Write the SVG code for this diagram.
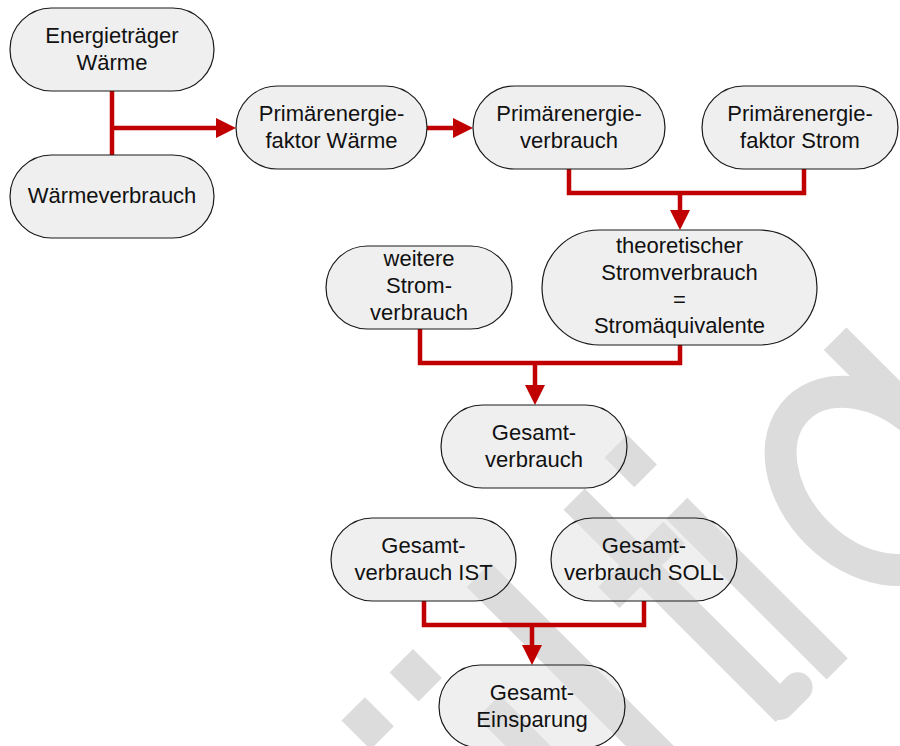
<svg xmlns="http://www.w3.org/2000/svg" width="900" height="746" viewBox="0 0 900 746">
  <defs>
    <style>
      .node rect { fill: #dfdfdf; fill-opacity: 0.5; stroke: #1a1a1a; stroke-width: 1.2; }
      .node text { font-family: "Liberation Sans", Arial, sans-serif; font-size: 22px; fill: #111; text-anchor: middle; }
      .conn { fill: none; stroke: #c00000; stroke-width: 4.5; stroke-linejoin: miter; stroke-linecap: butt; }
      .wm { fill: #dcdcdc; }
    </style>
    <marker id="arrow" viewBox="0 0 20 20" refX="0" refY="10" markerWidth="20" markerHeight="20" markerUnits="userSpaceOnUse" orient="auto">
      <path d="M0,0 L20,10 L0,20 Z" fill="#c00000"/>
    </marker>
  </defs>
  <rect x="0" y="0" width="900" height="746" fill="#ffffff"/>

  <g id="watermark" transform="rotate(-45)">
    <rect class="wm" x="-268" y="751" width="33" height="41"/>
    <rect class="wm" x="-200" y="751" width="33" height="41"/>
    <rect class="wm" x="-170" y="845" width="32" height="220"/>
    <rect class="wm" x="-85" y="745" width="34" height="320"/>
    <rect class="wm" x="38" y="759" width="30" height="300"/>
    <rect class="wm" x="8" y="838" width="92" height="30"/>
    <rect class="wm" x="38" y="1035" width="55" height="30" rx="15"/>
    <rect class="wm" x="104" y="751" width="32" height="42"/>
    <rect class="wm" x="104" y="838" width="30" height="227"/>
    <ellipse cx="275" cy="955" rx="74" ry="102" fill="none" stroke="#dcdcdc" stroke-width="32"/>
    <rect class="wm" x="335" y="830" width="32" height="235"/>
  </g>

  <g id="connectors">
    <path class="conn" d="M112,91 V155"/>
    <path class="conn" d="M112,128 H216" marker-end="url(#arrow)"/>
    <path class="conn" d="M427,128 H453" marker-end="url(#arrow)"/>
    <path class="conn" d="M569,169 V193 H804 V169"/>
    <path class="conn" d="M680,193 V210" marker-end="url(#arrow)"/>
    <path class="conn" d="M420,329 V363 H680 V345"/>
    <path class="conn" d="M535,363 V385" marker-end="url(#arrow)"/>
    <path class="conn" d="M424,601 V625 H644 V601"/>
    <path class="conn" d="M532,625 V645" marker-end="url(#arrow)"/>
  </g>

  <g id="n1" class="node">
    <rect x="10" y="8" width="204" height="83" rx="41.5"/>
    <text x="112" y="43">Energieträger</text>
    <text x="112" y="70">Wärme</text>
  </g>
  <g id="n2" class="node">
    <rect x="10" y="155" width="204" height="83" rx="41.5"/>
    <text x="112" y="203">Wärmeverbrauch</text>
  </g>
  <g id="n3" class="node">
    <rect x="236" y="86" width="191" height="83" rx="41.5"/>
    <text x="331.5" y="120.5">Primärenergie-</text>
    <text x="331.5" y="147.5">faktor Wärme</text>
  </g>
  <g id="n4" class="node">
    <rect x="473" y="86" width="192" height="83" rx="41.5"/>
    <text x="569" y="120.5">Primärenergie-</text>
    <text x="569" y="147.5">verbrauch</text>
  </g>
  <g id="n5" class="node">
    <rect x="702" y="86" width="196" height="83" rx="41.5"/>
    <text x="800" y="120.5">Primärenergie-</text>
    <text x="800" y="147.5">faktor Strom</text>
  </g>
  <g id="n6" class="node">
    <rect x="542" y="230" width="275" height="115" rx="57.5"/>
    <text x="679.5" y="253">theoretischer</text>
    <text x="679.5" y="280">Stromverbrauch</text>
    <text x="679.5" y="306.5">=</text>
    <text x="679.5" y="333">Stromäquivalente</text>
  </g>
  <g id="n7" class="node">
    <rect x="326" y="246" width="186" height="83" rx="41.5"/>
    <text x="419" y="266">weitere</text>
    <text x="419" y="293">Strom-</text>
    <text x="419" y="320">verbrauch</text>
  </g>
  <g id="n8" class="node">
    <rect x="441" y="405" width="186" height="83" rx="41.5"/>
    <text x="534" y="440">Gesamt-</text>
    <text x="534" y="467">verbrauch</text>
  </g>
  <g id="n9" class="node">
    <rect x="331" y="518" width="185" height="83" rx="41.5"/>
    <text x="423.5" y="553">Gesamt-</text>
    <text x="423.5" y="580">verbrauch IST</text>
  </g>
  <g id="n10" class="node">
    <rect x="551" y="518" width="186" height="83" rx="41.5"/>
    <text x="644" y="553">Gesamt-</text>
    <text x="644" y="580">verbrauch SOLL</text>
  </g>
  <g id="n11" class="node">
    <rect x="439" y="665" width="186" height="83" rx="41.5"/>
    <text x="532" y="700">Gesamt-</text>
    <text x="532" y="727">Einsparung</text>
  </g>
</svg>
